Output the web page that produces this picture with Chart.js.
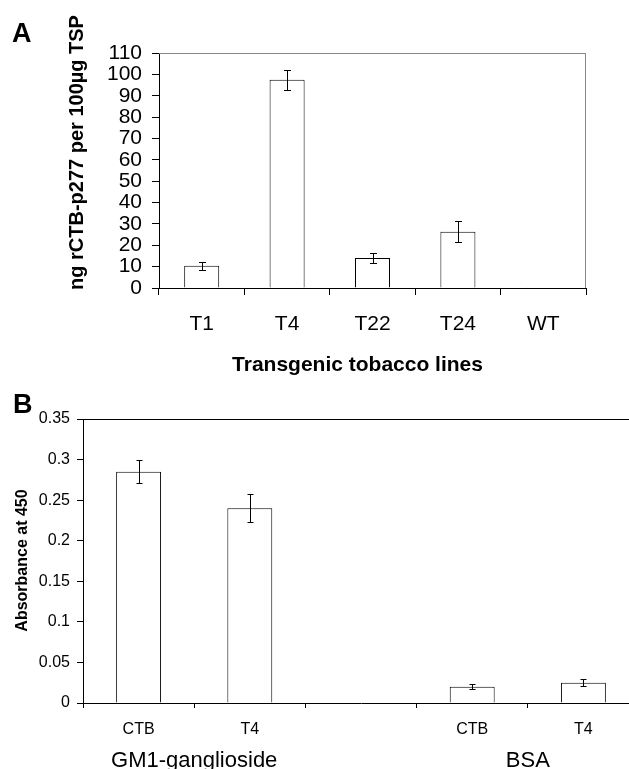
<!DOCTYPE html>
<html>
<head>
<meta charset="utf-8">
<script src="https://cdn.jsdelivr.net/npm/chart.js@4.4.1/dist/chart.umd.min.js"></script>
<style>
  html, body { margin: 0; padding: 0; overflow: hidden; background: #fff; }
  canvas { position: absolute; left: 0; }
  #chartA { top: 0; }
  #chartB { top: 380px; }
</style>
</head>
<body>
<canvas id="chartA" width="629" height="380"></canvas>
<canvas id="chartB" width="650" height="389"></canvas>
<script>
// panel A - rCTB-p277 in transgenic tobacco lines
const linesA = ['T1', 'T4', 'T22', 'T24', 'WT'];
const expressionA = [10.4, 97.5, 14.0, 26.3, 0.1];
const errorA = [1.9, 4.7, 2.3, 5.0, 0.1];
const yTicksA = ['0', '10', '20', '30', '40', '50', '60', '70', '80', '90', '100', '110'];

// panel B - GM1-ganglioside ELISA
const samplesB = ['CTB', 'T4', '', 'CTB', 'T4'];
const absorbanceB = [0.285, 0.240, null, 0.020, 0.025];
const errorB = [0.014, 0.017, null, 0.003, 0.0045];
const groupsB = ['GM1-ganglioside', 'BSA'];
const groupCatsB = [[0, 1], [3, 4]];
const yTicksB = ['0', '0.05', '0.1', '0.15', '0.2', '0.25', '0.3', '0.35'];

Chart.defaults.font.family = "'Liberation Sans', Arial, sans-serif";
Chart.defaults.color = '#000';

function errorBars(errs, cap) {
  return {
    id: 'errorBars',
    afterDatasetsDraw(chart) {
      const ctx = chart.ctx;
      const y = chart.scales.y;
      const vals = chart.data.datasets[0].data;
      ctx.save();
      ctx.strokeStyle = '#000';
      ctx.lineWidth = 1;
      chart.getDatasetMeta(0).data.forEach((bar, i) => {
        if (vals[i] == null || !errs[i]) return;
        const x = Math.round(bar.x) + 0.5;
        const t = Math.round(y.getPixelForValue(vals[i] + errs[i])) + 0.5;
        const b = Math.round(y.getPixelForValue(vals[i] - errs[i])) + 0.5;
        ctx.beginPath();
        ctx.moveTo(x, t); ctx.lineTo(x, b);
        ctx.moveTo(x - cap, t); ctx.lineTo(x + cap, t);
        ctx.moveTo(x - cap, b); ctx.lineTo(x + cap, b);
        ctx.stroke();
      });
      ctx.restore();
    }
  };
}

// top / right frame lines of the plot area
function frame(color, sides) {
  return {
    id: 'frame',
    beforeDatasetsDraw(chart) {
      const {ctx, chartArea: a} = chart;
      ctx.save();
      ctx.strokeStyle = color;
      ctx.lineWidth = 1;
      ctx.beginPath();
      if (sides.includes('top')) {
        ctx.moveTo(a.left, Math.round(a.top) + 0.5);
        ctx.lineTo(a.right, Math.round(a.top) + 0.5);
      }
      if (sides.includes('right')) {
        ctx.moveTo(Math.round(a.right) - 0.5, a.top);
        ctx.lineTo(Math.round(a.right) - 0.5, a.bottom);
      }
      ctx.stroke();
      ctx.restore();
    }
  };
}

function texts(draw) {
  return { id: 'texts', afterDraw(chart) { chart.ctx.save(); draw(chart.ctx, chart); chart.ctx.restore(); } };
}

function vText(ctx, str, x, y, font) {
  ctx.save();
  ctx.translate(x, y);
  ctx.rotate(-Math.PI / 2);
  ctx.font = font;
  ctx.textAlign = 'center';
  ctx.textBaseline = 'alphabetic';
  ctx.fillStyle = '#000';
  ctx.fillText(str, 0, 0);
  ctx.restore();
}

const FAM = "'Liberation Sans', Arial, sans-serif";

new Chart(document.getElementById('chartA'), {
  type: 'bar',
  data: {
    labels: linesA,
    datasets: [{
      data: expressionA,
      backgroundColor: '#fff',
      borderColor: '#000',
      borderWidth: 1,
      barPercentage: 0.41,
      categoryPercentage: 1
    }]
  },
  options: {
    responsive: false,
    animation: false,
    layout: { padding: { top: 53, right: 43, left: 0, bottom: 0 } },
    plugins: { legend: { display: false }, tooltip: { enabled: false } },
    scales: {
      x: {
        grid: { offset: true, drawOnChartArea: false, tickLength: 7, color: '#000' },
        border: { color: '#000' },
        ticks: { font: { size: 21 }, padding: 17, maxRotation: 0 },
        afterFit: s => { s.height = 92; }
      },
      y: {
        min: 0,
        max: 110,
        grid: { drawOnChartArea: false, tickLength: 7, color: '#000' },
        border: { color: '#000' },
        ticks: { stepSize: 10, autoSkip: false, font: { size: 21 }, padding: 10, callback: (v, i) => yTicksA[i] },
        afterFit: s => { s.width = 159; }
      }
    }
  },
  plugins: [
    frame('#888', ['top', 'right']),
    errorBars(errorA, 3.5),
    texts(ctx => {
      ctx.fillStyle = '#000';
      ctx.font = 'bold 27px ' + FAM;
      ctx.textAlign = 'left';
      ctx.fillText('A', 12, 42);
      vText(ctx, 'ng rCTB-p277 per 100µg TSP', 83, 152.5, 'bold 20px ' + FAM);
      ctx.font = 'bold 21px ' + FAM;
      ctx.textAlign = 'center';
      ctx.fillText('Transgenic tobacco lines', 357.5, 371);
    })
  ]
});

new Chart(document.getElementById('chartB'), {
  type: 'bar',
  data: {
    labels: samplesB,
    datasets: [{
      data: absorbanceB,
      backgroundColor: '#fff',
      borderColor: '#000',
      borderWidth: 1,
      barPercentage: 0.404,
      categoryPercentage: 1
    }]
  },
  options: {
    responsive: false,
    animation: false,
    layout: { padding: { top: 39, right: 11, left: 0, bottom: 0 } },
    plugins: { legend: { display: false }, tooltip: { enabled: false } },
    scales: {
      x: {
        grid: { offset: true, drawOnChartArea: false, tickLength: 5, color: '#000' },
        border: { color: '#000' },
        ticks: { font: { size: 16 }, padding: 12, maxRotation: 0 },
        afterFit: s => { s.height = 66; }
      },
      y: {
        min: 0,
        max: 0.35,
        grid: { drawOnChartArea: false, tickLength: 6, color: '#000' },
        border: { color: '#000' },
        ticks: { stepSize: 0.05, autoSkip: false, font: { size: 16 }, padding: 7, callback: (v, i) => yTicksB[i] },
        afterFit: s => { s.width = 83; }
      }
    }
  },
  plugins: [
    frame('#000', ['top']),
    errorBars(errorB, 3),
    texts((ctx, chart) => {
      ctx.fillStyle = '#000';
      ctx.font = 'bold 27px ' + FAM;
      ctx.textAlign = 'left';
      ctx.fillText('B', 13, 33);
      vText(ctx, 'Absorbance at 450', 27, 180.5, 'bold 16px ' + FAM);
      const x = chart.scales.x;
      ctx.font = '22px ' + FAM;
      ctx.textAlign = 'center';
      groupsB.forEach((g, i) => {
        const [a, b] = groupCatsB[i];
        ctx.fillText(g, (x.getPixelForValue(a) + x.getPixelForValue(b)) / 2, 387);
      });
    })
  ]
});
</script>
</body>
</html>
